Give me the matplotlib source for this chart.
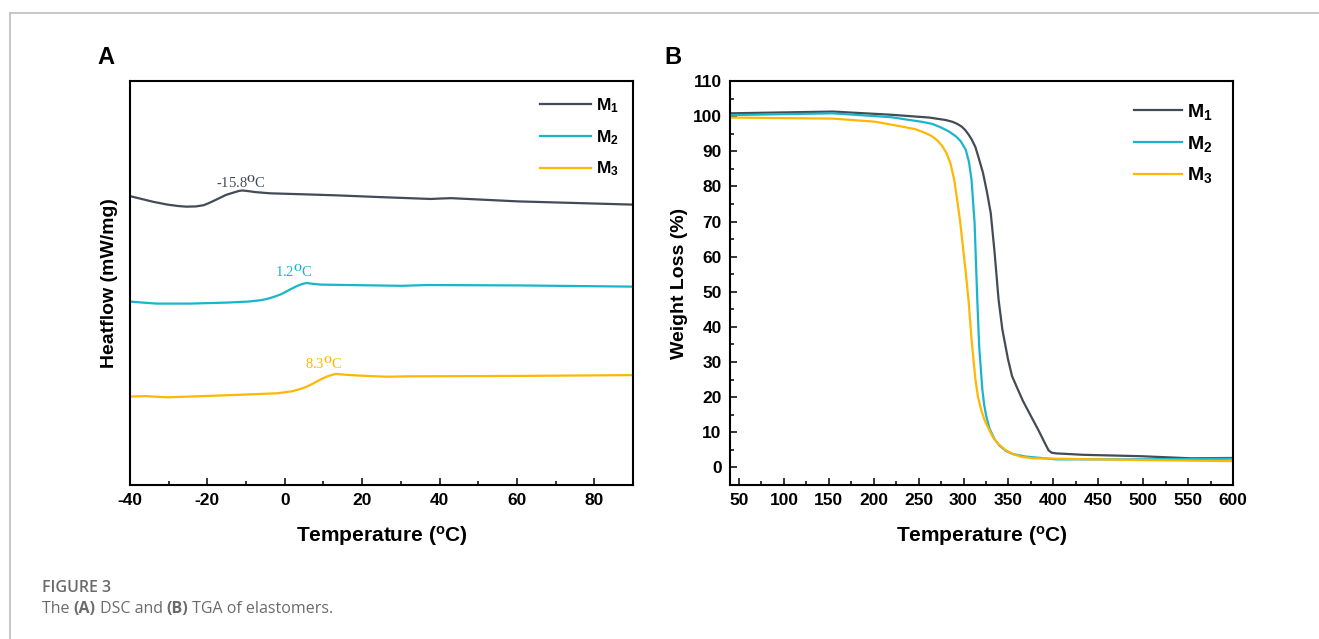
import matplotlib
matplotlib.use("Agg")
import matplotlib.pyplot as plt
from matplotlib.lines import Line2D
from matplotlib.ticker import MultipleLocator

plt.rcParams['font.family'] = ['Liberation Sans', 'DejaVu Sans']
plt.rcParams['font.weight'] = 'bold'
plt.rcParams['axes.labelweight'] = 'bold'
plt.rcParams['axes.unicode_minus'] = False
plt.rcParams['mathtext.fontset'] = 'custom'
plt.rcParams['mathtext.rm'] = 'Liberation Serif'
plt.rcParams['mathtext.it'] = 'Liberation Serif:italic'
plt.rcParams['mathtext.bf'] = 'Liberation Sans:bold'

# colours
c1 = '#434b57'
c2 = '#19b5cd'
c3 = '#ffb703'
labels = [r'$\mathbf{M_1}$', r'$\mathbf{M_2}$', r'$\mathbf{M_3}$']

# DSC (arbitrary heat flow units, curves offset)
dsc_m1_t = [-40, -37, -34, -30.3, -27.5, -25.5, -23, -21, -19.8, -18, -16.5, -15.2, -13.2, -11.8, -10.9, -9.5, -7.6, -3.8, 5, 13.2, 25, 37.7, 40, 43, 60.3, 90]
dsc_m1_h = [71.5, 70.8, 70.1, 69.4, 69.05, 68.9, 68.95, 69.25, 69.7, 70.5, 71.2, 71.8, 72.4, 72.8, 72.9, 72.75, 72.5, 72.2, 71.95, 71.7, 71.25, 70.8, 70.9, 71.0, 70.2, 69.4]
dsc_m2_t = [-40, -36, -33.1, -24.6, -15, -9.5, -6.5, -4.8, -3, -1, 1, 2.8, 4.3, 5.6, 7.2, 9.4, 30.2, 36.8, 60.3, 90]
dsc_m2_h = [45.4, 45.1, 44.9, 44.9, 45.15, 45.4, 45.7, 46.0, 46.5, 47.2, 48.2, 49.1, 49.7, 50.0, 49.8, 49.6, 49.3, 49.5, 49.4, 49.1]
dsc_m3_t = [-40, -36, -30.3, -15.2, -2, 1.9, 3.8, 5.6, 7.5, 9.4, 11.3, 13.2, 15.5, 18.9, 26.4, 32, 60.3, 90]
dsc_m3_h = [21.9, 22.0, 21.7, 22.2, 22.7, 23.2, 23.7, 24.3, 25.2, 26.2, 27.0, 27.5, 27.3, 27.1, 26.8, 26.9, 27.0, 27.2]

# Tg annotations: (label, x, y)
tg_m1 = ('-15.8$^{\\mathrm{O}}$C', -11.4, 74.8)
tg_m2 = ('1.2$^{\\mathrm{O}}$C', 2.4, 52.6)
tg_m3 = ('8.3$^{\\mathrm{O}}$C', 10.1, 29.9)

# TGA
tga_m1_t = [40.4, 154.7, 219, 261.6, 280, 287.5, 293, 298, 302, 305.5, 309, 313.2, 317, 321.7, 326, 330.3, 334.6, 339, 343.2, 349.5, 354, 360.3, 366, 373, 383.8, 390, 394.6, 398, 403, 433, 497, 553, 600]
tga_m1_w = [100.8, 101.3, 100.4, 99.6, 98.9, 98.4, 97.8, 97.0, 96.0, 94.8, 93.4, 91.2, 88.0, 83.8, 78.5, 72.4, 61.1, 47.8, 39.3, 30.8, 26.0, 22.3, 19.0, 15.6, 10.4, 7.2, 4.9, 4.2, 4.0, 3.6, 3.2, 2.6, 2.7]
tga_m2_t = [40, 154.7, 219, 253.2, 265, 274.7, 284, 291.7, 297, 302.5, 306, 308.9, 312.3, 315.3, 317.4, 320.9, 323, 325.2, 329, 334.6, 340, 347.3, 355, 369, 403, 497, 600]
tga_m2_w = [100.3, 100.8, 99.7, 98.4, 97.8, 96.8, 95.6, 94.2, 92.8, 90.4, 87.0, 81.9, 69.6, 47.8, 34.6, 22.3, 17.8, 14.7, 11.0, 8.0, 6.2, 4.7, 3.8, 3.1, 2.3, 2.3, 2.5]
tga_m3_t = [40, 154.7, 201.9, 231.8, 246, 257.5, 264, 270.4, 276, 281, 285.5, 289.6, 293, 296, 302.5, 305.5, 308.9, 313.2, 316, 319.5, 323.5, 328.2, 333, 339, 347, 356, 365, 377.4, 497, 600]
tga_m3_w = [99.6, 99.3, 98.4, 97.0, 96.3, 95.2, 94.4, 93.2, 91.6, 89.5, 86.5, 81.9, 76.0, 70.5, 55.4, 47.8, 36.5, 25.1, 20.2, 16.5, 13.4, 10.9, 8.5, 6.6, 4.9, 3.7, 3.0, 2.6, 2.1, 1.8]

fig = plt.figure(figsize=(13.19, 6.39), dpi=100)
W, H = 1319, 639
axA = fig.add_axes([130 / W, 1 - 485 / H, 503 / W, 404 / H])
axB = fig.add_axes([730 / W, 1 - 485 / H, 503 / W, 404 / H])

for ax in (axA, axB):
    for s in ax.spines.values():
        s.set_linewidth(1.5)
    ax.tick_params(which='both', direction='in', width=1.1, labelsize=12.5,
                   top=False, right=False, pad=6)
    ax.tick_params(which='major', length=5)
    ax.tick_params(which='minor', length=3)

# ---- panel A: DSC
axA.plot(dsc_m1_t, dsc_m1_h, color=c1, lw=1.6, label=labels[0])
axA.plot(dsc_m2_t, dsc_m2_h, color=c2, lw=1.6, label=labels[1])
axA.plot(dsc_m3_t, dsc_m3_h, color=c3, lw=1.6, label=labels[2])
for (txt, x, y), c in zip([tg_m1, tg_m2, tg_m3], [c1, c2, c3]):
    axA.text(x, y, txt, color=c, fontsize=10.5, family='Liberation Serif',
             fontweight='normal', ha='center', va='center')
axA.set_xlim(-40, 90)
axA.set_ylim(0, 100)
axA.xaxis.set_major_locator(MultipleLocator(20))
axA.xaxis.set_minor_locator(MultipleLocator(10))
axA.set_yticks([])
axA.set_xlabel('Temperature ($^{\\mathbf{o}}$C)', fontsize=15, labelpad=11)
axA.set_ylabel('Heatflow (mW/mg)', fontsize=14, labelpad=9)
axA.legend(loc='upper left', bbox_to_anchor=(0.816, 0.962), frameon=False,
           handlelength=2.9, handletextpad=0.3, labelspacing=0.75,
           fontsize=12.5, borderpad=0, borderaxespad=0)

# ---- panel B: TGA
axB.plot(tga_m1_t, tga_m1_w, color=c1, lw=1.6, label=labels[0])
axB.plot(tga_m2_t, tga_m2_w, color=c2, lw=1.6, label=labels[1])
axB.plot(tga_m3_t, tga_m3_w, color=c3, lw=1.6, label=labels[2])
axB.set_xlim(40, 600)
axB.set_ylim(-5, 110)
axB.xaxis.set_major_locator(MultipleLocator(50))
axB.xaxis.set_minor_locator(MultipleLocator(25))
axB.yaxis.set_major_locator(MultipleLocator(10))
axB.yaxis.set_minor_locator(MultipleLocator(5))
axB.set_xlabel('Temperature ($^{\\mathbf{o}}$C)', fontsize=15, labelpad=11)
axB.set_ylabel('Weight Loss (%)', fontsize=14, labelpad=3)
axB.legend(loc='upper left', bbox_to_anchor=(0.803, 0.948), frameon=False,
           handlelength=2.45, handletextpad=0.3, labelspacing=0.6,
           fontsize=14, borderpad=0, borderaxespad=0)

# panel letters
fig.text(106 / W, 1 - 58 / H, 'A', fontsize=17, ha='center', va='center')
fig.text(673 / W, 1 - 58 / H, 'B', fontsize=17, ha='center', va='center')

# page frame
fig.add_artist(Line2D([10 / W, 1], [1 - 13 / H, 1 - 13 / H], color='#bdbdbd', lw=1.2))
fig.add_artist(Line2D([10 / W, 10 / W], [0, 1 - 13 / H], color='#bdbdbd', lw=1.2))

# caption
fig.text(42 / W, 1 - 588 / H, 'FIGURE 3', fontsize=11.5, family='Open Sans',
         fontweight='semibold', color='#6b6b6b', va='center')
r = fig.canvas.get_renderer()
x = 42 / W
for s, w in [('The ', 'normal'), ('(A)', 'bold'), (' DSC and ', 'normal'),
             ('(B)', 'bold'), (' TGA of elastomers.', 'normal')]:
    t = fig.text(x, 1 - 609 / H, s, fontsize=11.5, family='Open Sans',
                 fontweight=w, color='#6b6b6b', va='center')
    x += t.get_window_extent(renderer=r).width / W

fig.savefig('out.png', dpi=100)
